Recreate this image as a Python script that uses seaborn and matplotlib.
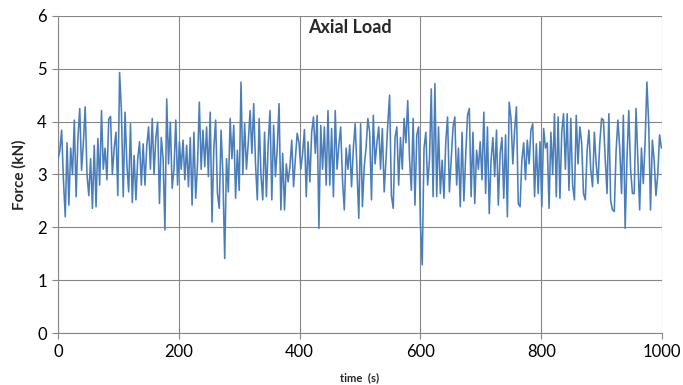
import numpy as np
import pandas as pd
import matplotlib
matplotlib.use("Agg")
import matplotlib.pyplot as plt
import seaborn as sns

force_0_102 = [3.3, 3.45, 3.84, 2.9, 2.2, 3.6, 2.42, 3.5, 3.0, 4.03, 2.58, 3.7, 4.25, 3.08,
               3.6, 4.28, 3.0, 2.6, 3.3, 2.36, 3.55, 2.39, 3.68, 2.8, 4.21, 3.1, 3.5, 2.9,
               4.05, 4.1, 3.0, 3.5, 3.8, 2.6, 4.93]
force_105_198 = [4.2, 2.58, 4.18, 3.2, 2.67, 3.96, 2.47, 3.36, 2.52, 3.3, 3.62, 2.8, 3.58, 2.8,
                 3.55, 3.9, 3.1, 4.06, 3.0, 3.7, 3.99, 2.45, 3.7, 3.3, 1.95, 4.43, 3.2, 3.99,
                 2.74, 3.1, 4.03, 2.8]
force_201_306 = [3.62, 3.1, 3.65, 2.9, 3.55, 2.77, 3.7, 2.42, 3.8, 2.55, 3.2, 4.37, 3.1, 3.84,
                 3.15, 3.9, 2.96, 4.18, 2.1, 3.5, 4.03, 2.64, 2.36, 3.84, 3.0, 1.41, 3.3, 2.67,
                 4.06, 3.3, 3.93, 2.55, 3.46, 2.7, 4.75, 3.0]
force_309_408 = [3.96, 3.1, 3.6, 4.21, 3.4, 4.34, 3.2, 2.52, 4.06, 3.0, 2.52, 3.8, 2.58, 3.58,
                 4.21, 2.52, 3.93, 2.96, 3.5, 4.34, 2.33, 3.4, 2.33, 3.2, 2.86, 3.15, 3.65, 2.77,
                 3.3, 3.78, 3.6, 3.1, 3.4, 3.85]
force_411_513 = [2.58, 3.62, 2.86, 3.8, 4.09, 3.4, 4.12, 1.98, 3.93, 3.1, 3.9, 2.8, 4.21, 2.8,
                 3.87, 2.58, 4.21, 3.1, 3.55, 3.9, 2.9, 2.33, 3.5, 3.1, 3.56, 2.77, 3.5, 3.96,
                 3.1, 2.17, 3.96, 2.39, 3.15, 3.5, 4.06]
force_516_624 = [3.8, 2.52, 4.12, 3.2, 3.6, 3.9, 3.1, 3.87, 2.67, 3.27, 3.96, 4.5, 2.6, 2.36,
                 3.7, 3.9, 2.8, 3.7, 3.1, 4.06, 3.6, 4.4, 3.3, 2.7, 4.06, 2.42, 3.75, 3.9,
                 2.07, 1.29, 3.5, 3.8, 2.8, 3.27, 4.62, 2.58, 4.72]
force_627_729 = [2.58, 3.9, 2.64, 3.27, 2.55, 3.62, 4.09, 2.67, 3.3, 3.9, 4.09, 2.8, 3.5, 2.39,
                 3.8, 2.5, 3.36, 4.12, 4.25, 2.58, 3.8, 2.45, 3.46, 3.1, 3.62, 2.9, 4.18, 2.64,
                 3.9, 2.26, 3.27, 3.7, 2.96, 3.84, 2.42]
force_732_831 = [3.4, 3.7, 2.55, 3.75, 2.2, 4.37, 4.06, 3.2, 3.84, 4.28, 2.45, 2.39, 3.27, 3.6,
                 2.9, 3.65, 3.2, 3.84, 3.96, 2.58, 3.58, 2.64, 3.62, 2.39, 3.87, 3.5, 3.6, 2.36,
                 3.8, 3.0, 4.15, 2.58, 4.09, 2.55]
force_834_936 = [3.8, 4.15, 3.1, 4.15, 2.7, 4.06, 2.8, 2.52, 4.12, 3.2, 3.9, 3.6, 2.64, 2.52,
                 3.45, 3.84, 3.1, 2.77, 3.8, 3.2, 2.83, 3.6, 4.06, 4.03, 3.3, 2.64, 4.15, 2.5,
                 2.33, 2.3, 3.45, 4.03, 3.5, 2.64, 4.12]
force_939_999 = [1.98, 3.3, 4.21, 3.1, 2.64, 2.64, 4.25, 3.27, 2.33, 3.5, 2.83, 3.6, 4.75, 3.96,
                 2.33, 3.65, 3.27, 2.6, 3.0, 3.75, 3.5]

force = (force_0_102 + force_105_198 + force_201_306 + force_309_408 + force_411_513 +
         force_516_624 + force_627_729 + force_732_831 + force_834_936 + force_939_999)
sample_step_s = 3
time_s = [i * sample_step_s for i in range(len(force))]

title = "Axial Load"
xlabel = "time  (s)"
ylabel = "Force (kN)"
x_ticks = [0, 200, 400, 600, 800, 1000]
y_ticks = [0, 1, 2, 3, 4, 5, 6]

df = pd.DataFrame({"time": time_s, "force": force})

sns.set_theme(style="white")
plt.rcParams["font.family"] = ["Lato", "DejaVu Sans"]

fig = plt.figure(figsize=(6.83, 3.85), dpi=100)
ax = fig.add_axes([58 / 683, 1 - 333 / 385, (662 - 58) / 683, (333 - 16) / 385])

grid_c = "#878787"
sns.lineplot(data=df, x="time", y="force", ax=ax, color="#4A7EBB", linewidth=1.15, zorder=3)

ax.set_xlim(0, 1000)
ax.set_ylim(0, 6)
ax.set_xticks(x_ticks)
ax.set_yticks(y_ticks)
ax.grid(True, color=grid_c, linewidth=0.8)
for s in ["top", "right"]:
    ax.spines[s].set_visible(False)
for s in ["left", "bottom"]:
    ax.spines[s].set_color(grid_c)
    ax.spines[s].set_linewidth(0.8)
ax.tick_params(axis="both", which="both", direction="out", length=4, width=0.8,
               color=grid_c, labelsize=12, labelcolor="black", pad=4,
               left=True, bottom=True)

ax.set_xlabel(xlabel, fontsize=8, fontweight="bold", labelpad=9)
ax.set_ylabel(ylabel, fontsize=11, fontweight="bold", labelpad=8)
ax.text((350 - 58) / 604, 1 - (28 - 16) / 317, title, transform=ax.transAxes,
        fontsize=13, fontweight="bold", ha="center", va="center", zorder=5)

fig.savefig("out.png", dpi=100)
